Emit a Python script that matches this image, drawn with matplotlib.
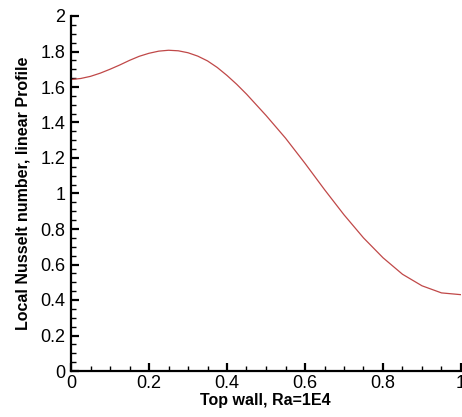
import matplotlib
matplotlib.use("Agg")
import matplotlib.pyplot as plt
from matplotlib.ticker import MultipleLocator, FuncFormatter

plt.rcParams['font.family'] = ['Liberation Sans', 'DejaVu Sans']

# values
x_pos = [0.0, 0.025, 0.05, 0.075, 0.1, 0.125, 0.15, 0.175, 0.2, 0.225,
         0.25, 0.275, 0.3, 0.325, 0.35, 0.375, 0.4, 0.425, 0.45, 0.475,
         0.5, 0.55, 0.6, 0.65, 0.7, 0.75, 0.8, 0.85, 0.9, 0.95, 1.0]
nusselt = [1.642, 1.648, 1.660, 1.678, 1.700, 1.724, 1.750, 1.773, 1.790, 1.802,
           1.807, 1.804, 1.793, 1.774, 1.747, 1.710, 1.665, 1.615, 1.560, 1.500,
           1.440, 1.312, 1.170, 1.022, 0.880, 0.750, 0.638, 0.545, 0.480, 0.440,
           0.430]

fig = plt.figure(figsize=(4.62, 4.17), dpi=100)
ax = fig.add_axes([71 / 462, 1 - 371 / 417, 390 / 462, 355 / 417])

ax.plot(x_pos, nusselt, color='#c04848', lw=0.9)

ax.set_xlim(0, 1)
ax.set_ylim(0, 2)
ax.xaxis.set_major_locator(MultipleLocator(0.2))
ax.xaxis.set_minor_locator(MultipleLocator(0.05))
ax.yaxis.set_major_locator(MultipleLocator(0.2))
ax.yaxis.set_minor_locator(MultipleLocator(0.05))
fmt = FuncFormatter(lambda v, p: '%g' % round(v, 2))
ax.xaxis.set_major_formatter(fmt)
ax.yaxis.set_major_formatter(fmt)

for s in ['top', 'right']:
    ax.spines[s].set_visible(False)
for s in ['left', 'bottom']:
    ax.spines[s].set_linewidth(1.6)

ax.tick_params(which='major', direction='in', length=6, width=1.6, labelsize=13, pad=4)
ax.tick_params(which='minor', direction='in', length=3.5, width=1.0)
ax.tick_params(axis='x', pad=3)

ax.set_xlabel('Top wall, Ra=1E4', fontsize=11.5, fontweight='bold')
ax.set_ylabel('Local Nusselt number, linear Profile', fontsize=11.5, fontweight='bold')
ax.xaxis.set_label_coords(0.497, -0.062)
ax.yaxis.set_label_coords(-0.105, 0.5)

fig.savefig('out.png', dpi=100)
